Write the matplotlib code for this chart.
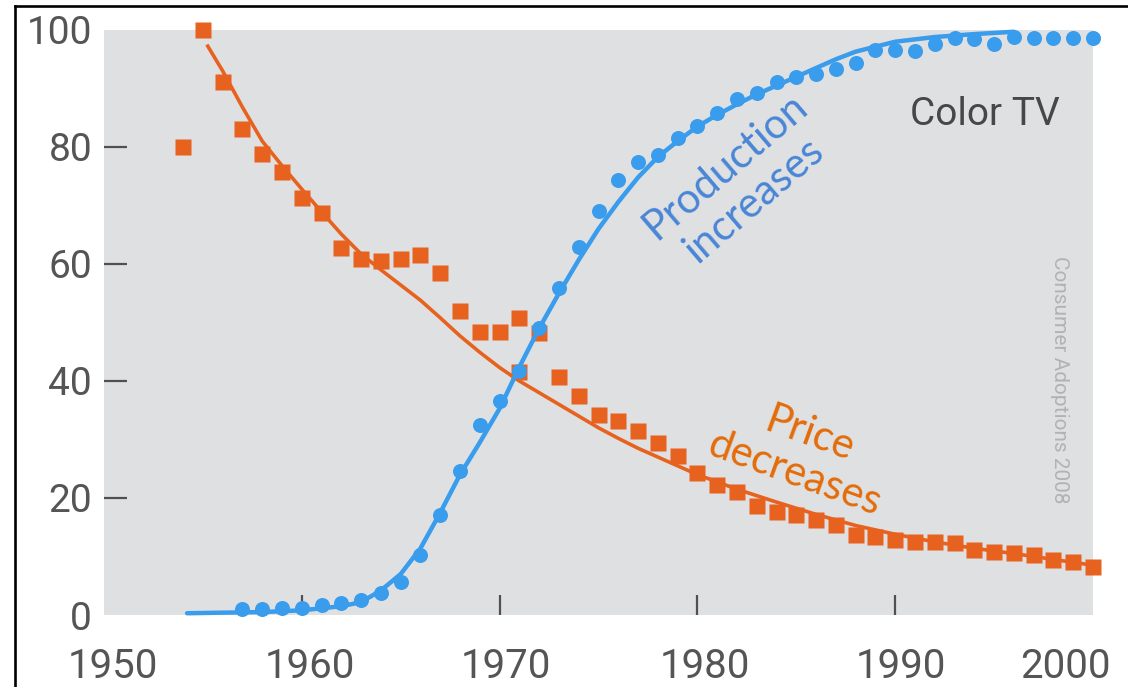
import matplotlib
matplotlib.use("Agg")
import matplotlib.pyplot as plt
from matplotlib.lines import Line2D
from matplotlib.transforms import ScaledTranslation

# ---- data ----
price_years = [1954, 1955, 1956, 1957, 1958, 1959, 1960, 1961, 1962, 1963, 1964,
               1965, 1966, 1967, 1968, 1969, 1970, 1971, 1971, 1972, 1973, 1974,
               1975, 1976, 1977, 1978, 1979, 1980, 1981, 1982, 1983, 1984, 1985,
               1986, 1987, 1988, 1989, 1990, 1991, 1992, 1993, 1994, 1995, 1996,
               1997, 1998, 1999, 2000]
price_values = [80.0, 100.0, 91.1, 83.1, 78.8, 75.7, 71.3, 68.7, 62.7, 60.9, 60.5,
                60.9, 61.5, 58.5, 52.0, 48.4, 48.4, 50.8, 41.5, 48.2, 40.7, 37.4,
                34.2, 33.2, 31.5, 29.4, 27.2, 24.3, 22.2, 21.0, 18.6, 17.6, 17.1,
                16.2, 15.4, 13.7, 13.3, 12.8, 12.5, 12.5, 12.3, 11.1, 10.8, 10.6,
                10.3, 9.4, 9.1, 8.2]

price_fit_years = [1955.2, 1956, 1957, 1958, 1959, 1960, 1961, 1962, 1963, 1964, 1965,
                   1966, 1967, 1968, 1969, 1970, 1971, 1972, 1973, 1974, 1975, 1976,
                   1977, 1978, 1979, 1980, 1982, 1984, 1986, 1988, 1990, 1992, 1994,
                   1996, 1998, 2000]
price_fit_values = [97.5, 93.0, 86.8, 81.0, 76.8, 72.8, 68.9, 65.1, 61.7, 59.0, 56.4,
                    53.8, 50.8, 47.7, 44.9, 42.3, 40.0, 38.0, 36.0, 34.0, 32.0, 30.2,
                    28.5, 27.0, 25.5, 24.0, 21.5, 19.3, 17.2, 15.3, 13.8, 12.5, 11.4,
                    10.5, 9.5, 8.5]

prod_years = list(range(1957, 2001))
prod_values = [1.0, 1.0, 1.2, 1.2, 1.7, 2.1, 2.6, 3.8, 5.6, 10.3, 17.1, 24.6, 32.5,
               36.6, 41.7, 49.0, 55.9, 62.9, 69.1, 74.4, 77.4, 78.6, 81.5, 83.6, 85.8,
               88.2, 89.2, 91.1, 91.9, 92.4, 93.3, 94.4, 96.6, 96.6, 96.4, 97.6, 98.6,
               98.5, 97.6, 98.8, 98.6, 98.6, 98.6, 98.6]

prod_fit_years = [1954.2, 1956, 1958, 1960, 1962, 1963, 1964, 1965, 1966, 1967, 1968,
                  1969, 1970, 1971, 1972, 1973, 1974, 1975, 1976, 1977, 1978, 1979,
                  1980, 1981, 1982, 1983, 1984, 1985, 1986, 1987, 1988, 1990, 1992,
                  1994, 1996]
prod_fit_values = [0.3, 0.4, 0.5, 0.8, 1.5, 2.2, 4.2, 7.0, 11.4, 17.5, 24.0, 29.5, 35.3,
                   42.4, 49.0, 55.0, 60.7, 66.0, 70.6, 74.8, 78.3, 81.0, 83.5, 85.5,
                   87.3, 89.0, 90.5, 92.0, 93.5, 95.0, 96.3, 98.0, 98.8, 99.3, 99.7]

x_ticks = [1950, 1960, 1970, 1980, 1990, 2000]
y_ticks = [0, 20, 40, 60, 80, 100]

ORANGE = "#e8621f"
BLUE = "#3a9cec"
GRAY_BG = "#dfe0e2"
TICK_COL = "#505050"

W, H = 1128, 687
fig = plt.figure(figsize=(W / 100, H / 100), dpi=100)
fig.patch.set_facecolor("white")

ax = fig.add_axes([104 / W, 1 - 615 / H, (1093 - 104) / W, (615 - 30) / H])
ax.set_facecolor(GRAY_BG)
for s in ax.spines.values():
    s.set_visible(False)

ax.set_xlim(1950.25, 1999.65)
ax.set_ylim(0, 100)

# price (orange)
ax.plot(price_fit_years, price_fit_values, color=ORANGE, lw=2.6, zorder=2,
        solid_capstyle="butt", solid_joinstyle="round", clip_on=False)
ax.plot(price_years, price_values, ls="none", marker="s", ms=11, color=ORANGE,
        mec="none", zorder=3, clip_on=False)

# production (blue)
ax.plot(prod_fit_years, prod_fit_values, color=BLUE, lw=3.2, zorder=4,
        solid_capstyle="round", solid_joinstyle="round", clip_on=False)
ax.plot(prod_years, prod_values, ls="none", marker="o", ms=10.8, color=BLUE,
        mec="none", zorder=5, clip_on=False)

# ticks
ax.set_xticks(x_ticks)
ax.set_xticklabels([str(v) for v in x_ticks])
ax.set_yticks(y_ticks)
ax.set_yticklabels([str(v) for v in y_ticks])
ax.tick_params(axis="y", direction="in", length=16.5, width=1.6, color=TICK_COL,
               pad=8.5, labelsize=28, labelcolor="#555555")
ax.tick_params(axis="x", direction="in", length=14.5, width=1.6, color=TICK_COL,
               pad=23, labelsize=29, labelcolor="#555555")
for lab in ax.get_xticklabels() + ax.get_yticklabels():
    lab.set_family("Roboto")

yt = ax.yaxis.get_major_ticks()
yt[0].tick1line.set_visible(False)
yt[-1].tick1line.set_visible(False)
xt = ax.xaxis.get_major_ticks()
xt[0].tick1line.set_visible(False)
xt[-1].tick1line.set_visible(False)

x_shifts = [9, 8, 6, 7, 6, -28]
for lab, dx in zip(ax.get_xticklabels(), x_shifts):
    lab.set_transform(lab.get_transform() + ScaledTranslation(dx / 100, 0, fig.dpi_scale_trans))

# annotations
ax.text(1990.74, 83.8, "Color TV", family="Roboto", size=28, color="#474747",
        ha="left", va="baseline")
ax.text(1998.3, 40.3, "Consumer Adoptions 2008", family="Roboto", size=15,
        color="#b2b2b2", rotation=270, ha="center", va="center")
ax.text(1982.15, 73.8, "Production\nincreases", family="Lato", size=30,
        color="#4a86d6", rotation=40.5, ha="center", va="center",
        multialignment="center", linespacing=1.2, rotation_mode="anchor")
ax.text(1985.3, 27.5, "Price\ndecreases", family="Lato", size=30,
        color="#e46c0a", rotation=-20, ha="center", va="center",
        multialignment="center", linespacing=1.15, rotation_mode="anchor")

# outer frame (top and left edges of the screenshot border)
fig.add_artist(Line2D([15 / W, 1], [1 - 6 / H, 1 - 6 / H], color="black", lw=1.9,
                      transform=fig.transFigure))
fig.add_artist(Line2D([15 / W, 15 / W], [0, 1 - 6 / H], color="black", lw=1.9,
                      transform=fig.transFigure))

fig.savefig("out.png", dpi=100, facecolor="white")
